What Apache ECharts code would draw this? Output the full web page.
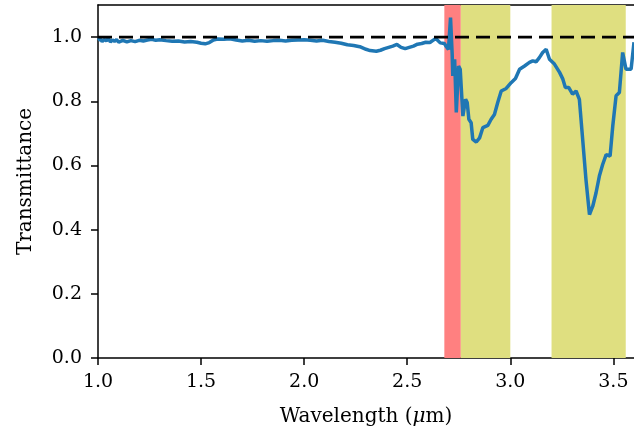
<!DOCTYPE html>
<html>
<head>
<meta charset="utf-8">
<script src="https://cdn.jsdelivr.net/npm/echarts@6/dist/echarts.min.js"></script>
<style>
html,body{margin:0;padding:0;background:#fff;}
#chart{width:634px;height:443px;}
</style>
</head>
<body>
<div id="chart"></div>
<script>
// Wavelength (um)
const wavelength = [
1.00,1.01,1.02,1.03,1.04,1.05,1.06,1.07,1.08,1.09,1.10,1.12,1.14,1.16,1.18,1.20,1.22,1.24,1.26,1.28,
1.30,1.33,1.36,1.39,1.42,1.45,1.48,1.50,1.52,1.54,1.56,1.58,1.61,1.64,1.67,1.70,1.73,1.76,1.79,1.82,
1.85,1.88,1.91,1.94,1.97,2.00,2.03,2.06,2.09,2.12,2.15,2.18,2.21,2.24,2.27,2.30,2.32,2.35,2.37,2.39,
2.41,2.43,2.45,2.47,2.49,2.51,2.53,2.55,2.57,2.59,2.61,2.63,2.64,2.66,2.68,2.69,2.70,2.71,2.718,2.721,
2.730,2.738,2.749,2.757,2.770,2.783,2.791,2.799,2.810,2.818,2.835,2.851,2.867,2.891,2.907,2.923,2.939,2.956,2.980,3.004,
3.025,3.045,3.069,3.093,3.109,3.125,3.141,3.157,3.174,3.190,3.214,3.239,3.255,3.267,3.283,3.302,3.319,3.335,3.351,3.367,
3.384,3.400,3.416,3.432,3.448,3.465,3.484,3.497,3.513,3.529,3.545,3.561,3.586,3.600
];
// Transmittance
const transmittance = [
0.990,0.995,0.986,0.993,0.988,0.996,0.985,0.991,0.987,0.992,0.984,0.990,0.985,0.989,0.986,0.990,0.988,0.991,0.993,0.990,
0.992,0.989,0.987,0.988,0.985,0.986,0.984,0.981,0.979,0.983,0.991,0.994,0.993,0.995,0.991,0.988,0.990,0.987,0.989,0.987,
0.989,0.990,0.988,0.990,0.991,0.992,0.990,0.988,0.990,0.986,0.984,0.981,0.976,0.974,0.970,0.962,0.958,0.956,0.959,0.964,
0.968,0.972,0.977,0.968,0.964,0.968,0.972,0.978,0.980,0.984,0.983,0.992,0.995,0.982,0.980,0.970,0.962,1.061,0.947,0.879,
0.931,0.765,0.910,0.900,0.754,0.806,0.796,0.744,0.733,0.681,0.673,0.686,0.718,0.725,0.744,0.759,0.796,0.832,0.840,0.858,
0.871,0.900,0.910,0.921,0.926,0.923,0.936,0.952,0.962,0.931,0.916,0.890,0.869,0.843,0.843,0.822,0.832,0.806,0.681,0.556,
0.447,0.473,0.515,0.567,0.603,0.634,0.629,0.723,0.817,0.827,0.952,0.900,0.900,0.984
];
// Shaded bands [start, end]
const redBand = [2.68, 2.76];
const yellowBands = [[2.76, 3.0], [3.2, 3.56]];
const referenceLevel = 1.0;
const xTicks = [1.0, 1.5, 2.0, 2.5, 3.0, 3.5];
const yTicks = [0.0, 0.2, 0.4, 0.6, 0.8, 1.0];

const FONT = 'DejaVu Serif';
const chart = echarts.init(document.getElementById('chart'), null, {renderer: 'canvas'});

const lineData = wavelength.map((w, i) => [w, transmittance[i]]);
const areas = [[{xAxis: redBand[0], itemStyle: {color: '#ff8080'}}, {xAxis: redBand[1]}]]
  .concat(yellowBands.map(b => [{xAxis: b[0], itemStyle: {color: '#dfdf80'}}, {xAxis: b[1]}]));

chart.setOption({
  animation: false,
  backgroundColor: '#fff',
  grid: {left: 98, top: 5, right: 0, bottom: 85, containLabel: false},
  xAxis: [{
    type: 'value', min: 1.0, max: 3.6, interval: 0.5, position: 'bottom',
    name: 'Wavelength ({i|μ}m)', nameLocation: 'middle', nameGap: 49,
    nameTextStyle: {fontFamily: FONT, fontSize: 20, color: '#000',
      rich: {i: {fontFamily: FONT, fontStyle: 'italic', fontSize: 20, color: '#000'}}},
    axisLine: {show: true, onZero: false, lineStyle: {color: '#000', width: 1.5}},
    axisTick: {show: true, length: 7, inside: false, customValues: xTicks, lineStyle: {color: '#000', width: 1.5}},
    axisLabel: {customValues: xTicks, margin: 15, fontFamily: FONT, fontSize: 19, color: '#000',
      formatter: v => v.toFixed(1)},
    splitLine: {show: false}
  }, {
    type: 'value', min: 1.0, max: 3.6, position: 'top',
    axisLine: {show: true, onZero: false, lineStyle: {color: '#000', width: 1.5}},
    axisTick: {show: false}, axisLabel: {show: false}, splitLine: {show: false}
  }],
  yAxis: {
    type: 'value', min: 0, max: 1.1, interval: 0.2,
    name: 'Transmittance', nameLocation: 'middle', nameGap: 62,
    nameTextStyle: {fontFamily: FONT, fontSize: 20, color: '#000'},
    axisLine: {show: true, onZero: false, lineStyle: {color: '#000', width: 1.5}},
    axisTick: {show: true, length: 7, customValues: yTicks, lineStyle: {color: '#000', width: 1.5}},
    axisLabel: {customValues: yTicks, margin: 16, fontFamily: FONT, fontSize: 19, color: '#000',
      formatter: v => v.toFixed(1)},
    splitLine: {show: false}
  },
  series: [{
    type: 'line', data: lineData, showSymbol: false, z: 3,
    lineStyle: {color: '#1f77b4', width: 3.5},
    itemStyle: {color: '#1f77b4'},
    markArea: {silent: true, z: 1, data: areas, itemStyle: {opacity: 1}}
  }, {
    type: 'line', data: [[1.0, referenceLevel], [3.6, referenceLevel]], showSymbol: false, z: 4,
    lineStyle: {color: '#000', width: 2.8, type: [14, 7]}
  }]
});
</script>
</body>
</html>
